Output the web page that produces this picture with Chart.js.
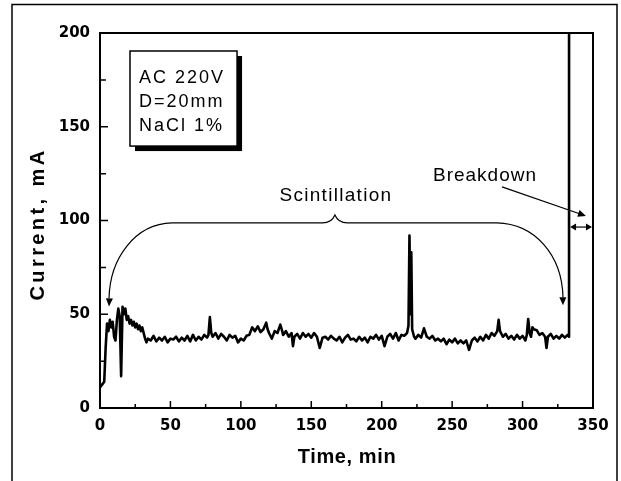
<!DOCTYPE html>
<html>
<head>
<meta charset="utf-8">
<style>
  html, body { margin: 0; padding: 0; background: #fff; }
  #wrap { width: 621px; height: 481px; }
</style>
<script src="https://cdn.jsdelivr.net/npm/chart.js@4.4.1/dist/chart.umd.min.js"></script>
</head>
<body>
<div id="wrap"><canvas id="chart-current" width="621" height="481"></canvas></div>
<script>
// --- Data ---
const timeMin = [
  0, 1, 2, 3, 4, 5, 6, 7, 8, 9, 10, 11, 12, 13, 14, 15, 16, 17, 18, 19,
  20, 21, 22, 23, 24, 25, 26, 27, 28, 29, 30, 31, 32, 33, 34,
  36, 38, 40, 42, 44, 46, 48, 50, 52, 54, 56, 58, 60, 62, 64, 66, 68, 70, 72, 74, 76,
  77, 78, 79, 80, 82, 84, 86, 88, 90, 92, 94, 96, 98, 100, 102, 104, 106, 108, 110,
  112, 114, 116, 118, 119, 120, 122, 124, 126, 128, 129, 130, 132, 134, 136, 137, 138,
  140, 142, 144, 146, 148, 150, 152, 154, 156, 158, 160, 162, 164, 166, 168, 170, 172,
  174, 176, 178, 180, 182, 184, 186, 188, 190, 192, 194, 196, 198, 200, 202, 204, 206,
  208, 210, 212, 214, 216, 218, 219, 219.7, 220.4, 221, 221.6, 223, 224, 226, 228, 230,
  232, 234, 236, 238, 240, 242, 244, 246, 248, 250, 252, 254, 256, 258, 260, 262, 264,
  266, 268, 270, 272, 274, 276, 278, 280, 282, 283, 284, 286, 288, 290, 292, 294, 296,
  298, 300, 302, 303, 304, 305, 306, 307, 308, 310, 312, 314, 316, 317, 318, 320, 322,
  324, 326, 328, 330, 332, 333, 333
];
const currentMA = [
  11, 12, 13, 14, 32, 45, 41, 47, 43, 46, 38, 36, 47, 53, 49, 17, 54, 50, 53, 47,
  49, 45, 47, 44, 46, 43, 45, 42, 44, 41, 43, 40, 37, 35, 37,
  36, 38.5, 35.5, 37.5, 36, 38, 35, 37, 36.5, 38, 35.5, 37.5, 36, 38.5, 35.5, 39, 36, 38, 36.5, 39, 37.5,
  39, 48.5, 40, 38, 40, 37, 39.5, 38, 36, 39, 37.5, 38.5, 35, 37, 36, 38.5, 39, 43, 41,
  43.5, 40.5, 42, 45.5, 42, 40, 37, 41, 40, 44.5, 42, 39, 41, 38, 40, 33, 38,
  39.5, 37, 40, 38, 39.5, 37.5, 40, 38, 32, 37.5, 38, 36.5, 38.5, 37, 36, 38, 35,
  37.5, 39, 36.5, 37, 35.5, 38, 36, 37.5, 35, 38, 37, 39, 36.5, 38.5, 33, 38, 39.5,
  37, 40, 36, 39, 38.5, 40, 44, 92, 50, 83, 42, 38, 37, 39, 37.5, 42.5,
  38, 37, 38.5, 36, 37, 35.5, 37, 34, 36.5, 35, 37, 34.5, 36, 34.5, 36, 31, 36,
  37.5, 35.5, 38, 36, 39, 37, 40, 38.5, 41, 47, 41, 38, 39.5, 37, 38.5, 36.5, 39,
  37, 38.5, 36, 39, 47.5, 40, 38, 43, 42, 41.5, 39, 40, 38, 32, 38, 39.5, 37,
  38.5, 37, 39, 37.5, 39, 38, 200
];
const xTicks = [0, 50, 100, 150, 200, 250, 300, 350];
const yTicks = [0, 50, 100, 150, 200];
const infoLines = ['AC 220V', 'D=20mm', 'NaCl 1%'];

const points = timeMin.map((t, i) => ({ x: t, y: currentMA[i] }));

// --- helpers ---
function spacedText(ctx, text, x, y, font, spacing, align) {
  ctx.save();
  ctx.font = font;
  ctx.letterSpacing = spacing + 'px';
  ctx.textAlign = align || 'left';
  ctx.textBaseline = 'alphabetic';
  ctx.fillStyle = '#000';
  ctx.fillText(text, x, y);
  ctx.restore();
}

function arrowHead(ctx, tipX, tipY, angle, len, half) {
  ctx.save();
  ctx.translate(tipX, tipY);
  ctx.rotate(angle);
  ctx.beginPath();
  ctx.moveTo(0, 0);
  ctx.lineTo(-len, -half);
  ctx.lineTo(-len, half);
  ctx.closePath();
  ctx.fill();
  ctx.restore();
}

// --- Frame, ticks, titles and notes ---
const decorations = {
  id: 'decorations',
  afterDraw(chart) {
    const ctx = chart.ctx;
    const sx = chart.scales.x;
    const sy = chart.scales.y;
    const X = v => sx.getPixelForValue(v);
    const Y = v => sy.getPixelForValue(v);
    const area = chart.chartArea;

    ctx.save();
    ctx.strokeStyle = '#000';
    ctx.fillStyle = '#000';

    // outer figure frame
    ctx.lineWidth = 1.5;
    ctx.beginPath();
    ctx.moveTo(12, 481);
    ctx.lineTo(12, 4.5);
    ctx.lineTo(617, 4.5);
    ctx.lineTo(617, 481);
    ctx.stroke();

    // plot frame
    ctx.lineWidth = 2;
    ctx.strokeRect(area.left, area.top, area.right - area.left, area.bottom - area.top);

    // inward ticks
    ctx.lineWidth = 1.5;
    ctx.beginPath();
    for (let i = 0; i < xTicks.length; i++) {
      const v = xTicks[i];
      ctx.moveTo(X(v), area.bottom);
      ctx.lineTo(X(v), area.bottom - 7);
      if (i < xTicks.length - 1) {
        const m = (v + xTicks[i + 1]) / 2;
        ctx.moveTo(X(m), area.bottom);
        ctx.lineTo(X(m), area.bottom - 4);
      }
    }
    for (let i = 0; i < yTicks.length; i++) {
      const v = yTicks[i];
      ctx.moveTo(area.left, Y(v));
      ctx.lineTo(area.left + 8, Y(v));
      if (i < yTicks.length - 1) {
        const m = (v + yTicks[i + 1]) / 2;
        ctx.moveTo(area.left, Y(m));
        ctx.lineTo(area.left + 6, Y(m));
      }
    }
    ctx.stroke();

    // axis titles
    spacedText(ctx, 'Time, min', 347, 463, 'bold 20px "Liberation Sans"', 0.6, 'center');
    ctx.save();
    ctx.translate(44, 224);
    ctx.rotate(-Math.PI / 2);
    spacedText(ctx, 'Current, mA', 0, 0, 'bold 20px "Liberation Sans"', 3.4, 'center');
    ctx.restore();

    // info box with drop shadow
    const bx0 = X(21.3), bx1 = X(97.3), by0 = Y(190.4), by1 = Y(139.7);
    ctx.fillRect(bx0 + 5, by0 + 5, bx1 - bx0, by1 - by0);
    ctx.fillStyle = '#fff';
    ctx.fillRect(bx0, by0, bx1 - bx0, by1 - by0);
    ctx.fillStyle = '#000';
    ctx.lineWidth = 1.5;
    ctx.strokeRect(bx0, by0, bx1 - bx0, by1 - by0);
    const baseY = [173.3, 160.5, 147.7];
    infoLines.forEach((line, i) => {
      spacedText(ctx, line, X(27.7), Y(baseY[i]), '18px "Liberation Sans"', 2, 'left');
    });

    // scintillation brace with curved arrows
    spacedText(ctx, 'Scintillation', X(167.5), Y(110.4), '19px "Liberation Sans"', 1.3, 'center');
    ctx.lineWidth = 1.2;
    const hy = Y(98.7);
    ctx.beginPath();
    ctx.moveTo(X(6.4), Y(58.5));
    ctx.bezierCurveTo(X(7.1), Y(80), X(25), Y(98.2), X(51.1), hy);
    ctx.lineTo(X(158), hy);
    ctx.quadraticCurveTo(X(164.5), hy, X(166.8), Y(102.9));
    ctx.quadraticCurveTo(X(169.1), hy, X(175.6), hy);
    ctx.lineTo(X(281.8), hy);
    ctx.bezierCurveTo(X(308.8), Y(98.2), X(328), Y(81.6), X(328.7), Y(59));
    ctx.stroke();
    arrowHead(ctx, X(6.4), Y(54.2), Math.PI / 2 + 0.05, 8, 3.5);
    arrowHead(ctx, X(328.7), Y(54.8), Math.PI / 2 - 0.02, 8, 3.5);

    // breakdown note
    spacedText(ctx, 'Breakdown', X(236.4), Y(121), '19px "Liberation Sans"', 1, 'left');
    const ax0 = X(285.4), ay0 = Y(117.9), ax1 = X(345), ay1 = Y(102.4);
    const ang = Math.atan2(ay1 - ay0, ax1 - ax0);
    ctx.beginPath();
    ctx.moveTo(ax0, ay0);
    ctx.lineTo(ax1 - 6 * Math.cos(ang), ay1 - 6 * Math.sin(ang));
    ctx.stroke();
    arrowHead(ctx, ax1, ay1, ang, 8, 3.5);

    // double arrow over the breakdown interval
    const dy = Y(96.5);
    ctx.beginPath();
    ctx.moveTo(X(333) + 5, dy);
    ctx.lineTo(X(350) - 5, dy);
    ctx.stroke();
    arrowHead(ctx, X(333) + 1, dy, Math.PI, 6, 3.5);
    arrowHead(ctx, X(350) - 1, dy, 0, 6, 3.5);

    ctx.restore();
  }
};

// --- Chart ---
const ctx = document.getElementById('chart-current').getContext('2d');
const currentChart = new Chart(ctx, {
  type: 'line',
  data: {
    datasets: [{
      data: points,
      borderColor: '#000',
      borderWidth: 2.6,
      borderJoinStyle: 'round',
      pointRadius: 0,
      tension: 0,
      fill: false,
    }]
  },
  options: {
    responsive: false,
    animation: false,
    layout: { padding: { left: 0, right: 28, top: 33, bottom: 0 } },
    plugins: { legend: { display: false }, tooltip: { enabled: false } },
    scales: {
      x: {
        type: 'linear',
        min: 0,
        max: 350,
        grid: { display: false, drawTicks: false },
        border: { display: false },
        afterBuildTicks: s => { s.ticks = xTicks.map(v => ({ value: v })); },
        afterFit: s => { s.height = 73; },
        ticks: {
          color: '#000',
          padding: 9,
          maxRotation: 0,
          font: { family: '"DejaVu Sans"', weight: 'bold', size: 15 },
        }
      },
      y: {
        min: 0,
        max: 200,
        grid: { display: false, drawTicks: false },
        border: { display: false },
        afterBuildTicks: s => { s.ticks = yTicks.map(v => ({ value: v })); },
        afterFit: s => { s.width = 100; },
        ticks: {
          color: '#000',
          padding: 10,
          font: { family: '"DejaVu Sans"', weight: 'bold', size: 15 },
        }
      }
    }
  },
  plugins: [decorations]
});
</script>
</body>
</html>
